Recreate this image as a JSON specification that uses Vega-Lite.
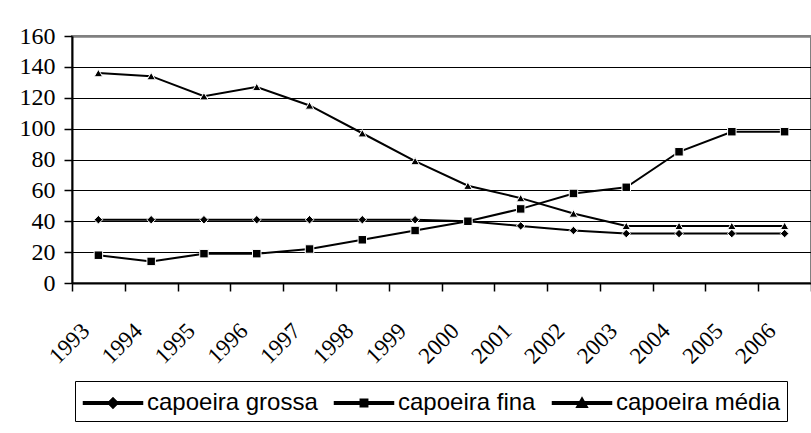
{
  "$schema": "https://vega.github.io/schema/vega-lite/v6.json",
  "width": 739,
  "height": 247,
  "autosize": "none",
  "padding": {"left": 72, "top": 36, "right": 0, "bottom": 150},
  "background": "white",
  "config": {"view": {"stroke": "#808080", "strokeWidth": 2}},
  "data": {
    "values": [
      {"year": "1993", "series": "capoeira grossa", "value": 41},
      {"year": "1994", "series": "capoeira grossa", "value": 41},
      {"year": "1995", "series": "capoeira grossa", "value": 41},
      {"year": "1996", "series": "capoeira grossa", "value": 41},
      {"year": "1997", "series": "capoeira grossa", "value": 41},
      {"year": "1998", "series": "capoeira grossa", "value": 41},
      {"year": "1999", "series": "capoeira grossa", "value": 41},
      {"year": "2000", "series": "capoeira grossa", "value": 40},
      {"year": "2001", "series": "capoeira grossa", "value": 37},
      {"year": "2002", "series": "capoeira grossa", "value": 34},
      {"year": "2003", "series": "capoeira grossa", "value": 32},
      {"year": "2004", "series": "capoeira grossa", "value": 32},
      {"year": "2005", "series": "capoeira grossa", "value": 32},
      {"year": "2006", "series": "capoeira grossa", "value": 32},
      {"year": "1993", "series": "capoeira fina", "value": 18},
      {"year": "1994", "series": "capoeira fina", "value": 14},
      {"year": "1995", "series": "capoeira fina", "value": 19},
      {"year": "1996", "series": "capoeira fina", "value": 19},
      {"year": "1997", "series": "capoeira fina", "value": 22},
      {"year": "1998", "series": "capoeira fina", "value": 28},
      {"year": "1999", "series": "capoeira fina", "value": 34},
      {"year": "2000", "series": "capoeira fina", "value": 40},
      {"year": "2001", "series": "capoeira fina", "value": 48},
      {"year": "2002", "series": "capoeira fina", "value": 58},
      {"year": "2003", "series": "capoeira fina", "value": 62},
      {"year": "2004", "series": "capoeira fina", "value": 85},
      {"year": "2005", "series": "capoeira fina", "value": 98},
      {"year": "2006", "series": "capoeira fina", "value": 98},
      {"year": "1993", "series": "capoeira média", "value": 136},
      {"year": "1994", "series": "capoeira média", "value": 134},
      {"year": "1995", "series": "capoeira média", "value": 121},
      {"year": "1996", "series": "capoeira média", "value": 127},
      {"year": "1997", "series": "capoeira média", "value": 115},
      {"year": "1998", "series": "capoeira média", "value": 97},
      {"year": "1999", "series": "capoeira média", "value": 79},
      {"year": "2000", "series": "capoeira média", "value": 63},
      {"year": "2001", "series": "capoeira média", "value": 55},
      {"year": "2002", "series": "capoeira média", "value": 45},
      {"year": "2003", "series": "capoeira média", "value": 37},
      {"year": "2004", "series": "capoeira média", "value": 37},
      {"year": "2005", "series": "capoeira média", "value": 37},
      {"year": "2006", "series": "capoeira média", "value": 37}
    ]
  },
  "encoding": {
    "x": {
      "field": "year",
      "type": "ordinal",
      "scale": {"type": "band", "paddingInner": 0, "paddingOuter": 0},
      "axis": {
        "title": null,
        "tickBand": "extent",
        "labelAngle": -45,
        "labelAlign": "right",
        "labelBaseline": "middle",
        "labelOffset": -13,
        "labelPadding": 36,
        "labelFont": "'Liberation Serif', 'DejaVu Serif', serif",
        "labelFontSize": 23,
        "labelColor": "black",
        "tickColor": "black",
        "tickSize": 8,
        "tickWidth": 1.5,
        "domainColor": "black",
        "domainWidth": 2,
        "grid": false
      }
    },
    "y": {
      "field": "value",
      "type": "quantitative",
      "scale": {"domain": [0, 160], "nice": false},
      "axis": {
        "title": null,
        "values": [0, 20, 40, 60, 80, 100, 120, 140, 160],
        "grid": true,
        "gridColor": {"condition": {"test": "datum.value === 160", "value": "#808080"}, "value": "black"},
        "gridWidth": {"condition": {"test": "datum.value === 160", "value": 2.5}, "value": 1},
        "labelFont": "'Liberation Serif', 'DejaVu Serif', serif",
        "labelFontSize": 24,
        "labelColor": "black",
        "labelPadding": 9,
        "tickColor": "black",
        "tickSize": 8,
        "tickWidth": 1.5,
        "domainColor": "black",
        "domainWidth": 2
      }
    }
  },
  "layer": [
    {
      "mark": {"type": "line", "color": "black", "strokeWidth": 2},
      "encoding": {"detail": {"field": "series", "type": "nominal"}}
    },
    {
      "mark": {"type": "point", "filled": true, "fill": "black", "stroke": "white", "strokeWidth": 1, "opacity": 1, "size": 72},
      "encoding": {
        "shape": {
          "field": "series",
          "type": "nominal",
          "scale": {
            "domain": ["capoeira grossa", "capoeira fina", "capoeira média"],
            "range": ["diamond", "square", "triangle-up"]
          },
          "legend": null
        }
      }
    },
    {
      "mark": {"type": "point", "filled": true, "fill": "black", "stroke": "black", "strokeWidth": 0, "opacity": 1, "size": 0},
      "encoding": {
        "shape": {
          "field": "series",
          "type": "nominal",
          "scale": {
            "domain": ["capoeira grossa", "capoeira fina", "capoeira média"],
            "range": [
              "M-1.95,-0.067L1.95,-0.067L1.95,0.067L-1.95,0.067ZM0,-0.32L0.32,0L0,0.32L-0.32,0Z",
              "M-1.95,-0.067L1.95,-0.067L1.95,0.067L-1.95,0.067ZM-0.23,-0.23L0.23,-0.23L0.23,0.23L-0.23,0.23Z",
              "M-1.95,-0.067L1.95,-0.067L1.95,0.067L-1.95,0.067ZM0,-0.32L0.33,0.26L-0.33,0.26Z"
            ]
          },
          "legend": {
            "title": null,
            "orient": "none",
            "legendX": 3,
            "legendY": 345,
            "direction": "horizontal",
            "columns": 3,
            "strokeColor": "black",
            "fillColor": "white",
            "padding": 6,
            "symbolSize": 900,
            "symbolStrokeWidth": 2,
            "symbolFillColor": "black",
            "symbolOpacity": 1,
            "symbolOffset": 16,
            "labelOffset": 18,
            "labelFont": "'Liberation Sans', Arial, sans-serif",
            "labelFontSize": 24,
            "labelLimit": 300,
            "labelColor": "black",
            "columnPadding": 12
          }
        }
      }
    }
  ],
  "resolve": {"scale": {"shape": "independent"}, "legend": {"shape": "independent"}}
}
